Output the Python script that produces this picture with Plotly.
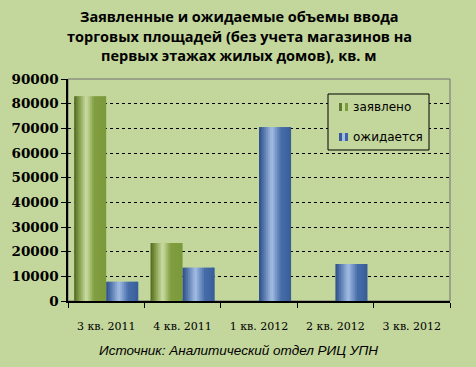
import plotly.graph_objects as go

categories = ["3 кв. 2011", "4 кв. 2011", "1 кв. 2012", "2 кв. 2012", "3 кв. 2012"]
declared = [83000, 23500, None, None, None]
expected = [7800, 13500, 70500, 15000, None]
series_names = ["заявлено", "ожидается"]
y_ticks = [0, 10000, 20000, 30000, 40000, 50000, 60000, 70000, 80000, 90000]
title_lines = ["Заявленные и ожидаемые объемы ввода",
               "торговых площадей (без учета магазинов на",
               "первых этажах жилых домов), кв. м"]
source_text = "Источник: Аналитический отдел РИЦ УПН"

BG = "#C3D69B"

green_stops = [(0.0, (80, 102, 36)), (0.12, (120, 145, 62)), (0.38, (204, 222, 164)),
               (0.62, (130, 158, 66)), (1.0, (122, 154, 58))]
blue_stops = [(0.0, (44, 78, 134)), (0.12, (75, 110, 165)), (0.4, (164, 190, 228)),
              (0.68, (72, 110, 170)), (1.0, (56, 94, 154))]


def interp(stops, t):
    for (t0, c0), (t1, c1) in zip(stops, stops[1:]):
        if t0 <= t <= t1:
            f = (t - t0) / (t1 - t0) if t1 > t0 else 0
            c = [round(a + (b - a) * f) for a, b in zip(c0, c1)]
            return "rgb(%d,%d,%d)" % tuple(c)
    return "rgb(%d,%d,%d)" % stops[-1][1]


fig = go.Figure()
N = 18
bar_w = 0.42
for values, name, stops, base_off in [(declared, series_names[0], green_stops, -bar_w),
                                       (expected, series_names[1], blue_stops, 0.0)]:
    sw = bar_w / N
    for i in range(N):
        t = (i + 0.5) / N
        w = sw * 1.6 if i < N - 1 else sw
        fig.add_trace(go.Bar(
            x=categories, y=values, name=name,
            offset=base_off + i * sw, width=w,
            marker=dict(color=interp(stops, t), line=dict(width=0)),
            showlegend=False, hoverinfo="skip",
        ))


def px_x(p):
    return (p - 68) / 382.0


def px_y(p):
    return (301 - p) / 222.0


shapes = [dict(type="rect", xref="paper", yref="paper", x0=0, x1=1, y0=0, y1=1,
               line=dict(color="#707070", width=1), layer="below"),
          dict(type="rect", xref="paper", yref="paper",
               x0=px_x(328), x1=px_x(429), y0=px_y(150), y1=px_y(94),
               fillcolor=BG, line=dict(color="black", width=1), layer="above")]
annotations = []
for k, (name, stops) in enumerate([(series_names[0], green_stops), (series_names[1], blue_stops)]):
    cy = 107 + 30 * k
    for j in range(3):
        shapes.append(dict(type="rect", xref="paper", yref="paper",
                           x0=px_x(339 + 3 * j), x1=px_x(342 + 3 * j),
                           y0=px_y(cy + 4), y1=px_y(cy - 4),
                           fillcolor=interp(stops, [0.05, 0.4, 0.85][j]),
                           line=dict(width=0), layer="above"))
    annotations.append(dict(text=name, xref="paper", yref="paper",
                            x=px_x(351), y=px_y(cy), xanchor="left", yanchor="middle",
                            showarrow=False,
                            font=dict(family="DejaVu Sans", size=12, color="black")))

for line, cy in zip(title_lines, [16, 37, 56]):
    annotations.append(dict(text="<b>%s</b>" % line, xref="paper", yref="paper",
                            x=px_x(239), y=px_y(cy), xanchor="center", yanchor="middle",
                            showarrow=False,
                            font=dict(family="Open Sans", size=14.5, color="black")))

annotations.append(dict(
    text="<i>%s</i>" % source_text,
    xref="paper", yref="paper", x=px_x(238), y=px_y(350), xanchor="center", yanchor="middle",
    showarrow=False, font=dict(family="Liberation Sans", size=13.5, color="black"),
))

fig.update_layout(
    width=476, height=367,
    paper_bgcolor=BG, plot_bgcolor=BG,
    barmode="overlay",
    showlegend=False,
    margin=dict(l=68, r=26, t=79, b=66),
    xaxis=dict(
        type="category", categoryorder="array", categoryarray=categories,
        range=[-0.5, 4.5],
        showline=True, linecolor="black", linewidth=1.5,
        ticks="outside", tickson="boundaries", ticklen=5, tickcolor="black",
        tickfont=dict(family="DejaVu Serif", size=11, color="black"),
        ticklabelstandoff=14,
        showgrid=False,
    ),
    yaxis=dict(
        range=[0, 90000], tickvals=y_ticks, ticktext=[str(v) for v in y_ticks],
        showline=True, linecolor="black", linewidth=1.5,
        ticks="outside", ticklen=5, tickcolor="black",
        tickfont=dict(family="DejaVu Serif", size=13.5, color="black", weight="bold"),
        showgrid=True, gridcolor="black", griddash="dot", gridwidth=1,
        zeroline=False,
    ),
    shapes=shapes,
    annotations=annotations,
)

fig.write_html("out.html")
